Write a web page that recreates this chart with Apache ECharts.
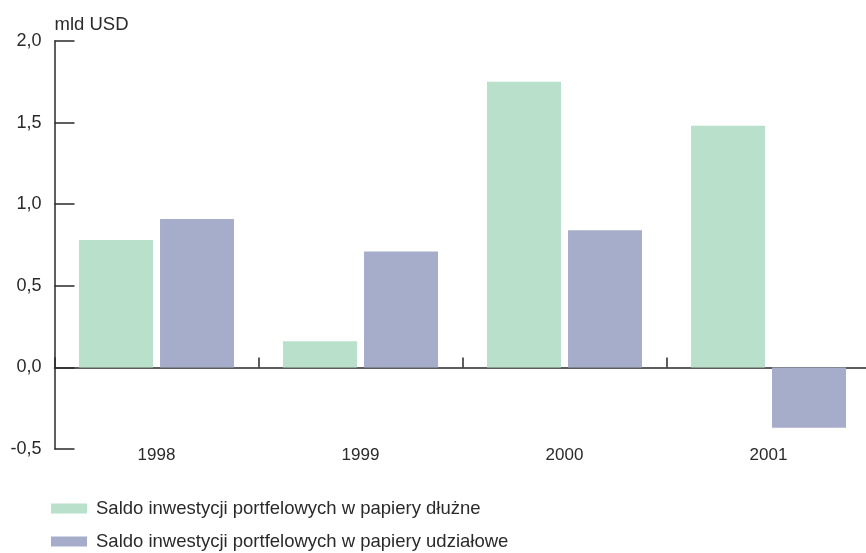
<!DOCTYPE html>
<html>
<head>
<meta charset="utf-8">
<script src="https://cdn.jsdelivr.net/npm/echarts@6/dist/echarts.min.js"></script>
<style>
  html, body { margin: 0; padding: 0; background: #fff; }
  #chart { width: 866px; height: 553px; }
</style>
</head>
<body>
<div id="chart"></div>
<script>
// Portfolio investment balance, bn USD
const years = ['1998', '1999', '2000', '2001'];
const debtSecurities = [0.78, 0.16, 1.75, 1.48];
const equitySecurities = [0.91, 0.71, 0.84, -0.37];
const seriesNames = [
  'Saldo inwestycji portfelowych w papiery dłużne',
  'Saldo inwestycji portfelowych w papiery udziałowe'
];
const unitLabel = 'mld USD';

const FONT = '"Liberation Sans", Arial, sans-serif';
const FS = 17;
const TEXT = '#2a2a2a';
const GREEN = '#b9e0cb';
const PURPLE = '#a6adcb';

const chart = echarts.init(document.getElementById('chart'), null, { renderer: 'canvas' });

const legendText = { color: TEXT, fontFamily: FONT, fontSize: 18.5, lineHeight: 18, padding: [0, 0, 0, 4] };

chart.setOption({
  animation: false,
  backgroundColor: '#fff',
  grid: {
    left: 54.5, top: 41, bottom: 104, width: 816,
    containLabel: false, outerBoundsMode: 'none'
  },
  legend: [
    {
      data: [seriesNames[0]], left: 51, top: 499, padding: 0, icon: 'rect',
      itemWidth: 36, itemHeight: 10, textStyle: legendText, selectedMode: false
    },
    {
      data: [seriesNames[1]], left: 51, top: 532, padding: 0, icon: 'rect',
      itemWidth: 36, itemHeight: 10, textStyle: legendText, selectedMode: false
    }
  ],
  xAxis: [
    {
      type: 'category', data: years, position: 'bottom',
      axisLine: { onZero: true, lineStyle: { color: TEXT, width: 1.5 } },
      axisTick: { show: true, inside: true, length: 10, lineStyle: { color: TEXT, width: 1.5 } },
      axisLabel: { show: false },
      splitLine: { show: false }
    },
    {
      type: 'category', data: years, position: 'bottom',
      axisLine: { show: false, onZero: false },
      axisTick: { show: false },
      axisLabel: { color: TEXT, fontFamily: FONT, fontSize: FS, margin: -2 },
      splitLine: { show: false }
    }
  ],
  yAxis: {
    type: 'value', min: -0.5, max: 2.0, interval: 0.5,
    name: unitLabel, nameLocation: 'end', nameGap: 7,
    nameTextStyle: { color: TEXT, fontFamily: FONT, fontSize: 18.5, align: 'left', verticalAlign: 'bottom' },
    axisLine: { show: true, lineStyle: { color: TEXT, width: 1.5 } },
    axisTick: { show: true, inside: true, length: 20, lineStyle: { color: TEXT, width: 1.5 } },
    axisLabel: {
      color: TEXT, fontFamily: FONT, fontSize: 18, margin: 13,
      formatter: v => v.toFixed(1).replace('.', ',')
    },
    splitLine: { show: false }
  },
  series: [
    {
      name: seriesNames[0], type: 'bar', xAxisIndex: 0, data: debtSecurities,
      barWidth: 74, barGap: '9.5%', itemStyle: { color: GREEN }
    },
    {
      name: seriesNames[1], type: 'bar', xAxisIndex: 0, data: equitySecurities,
      barWidth: 74, barGap: '9.5%', itemStyle: { color: PURPLE }
    }
  ]
});
</script>
</body>
</html>
